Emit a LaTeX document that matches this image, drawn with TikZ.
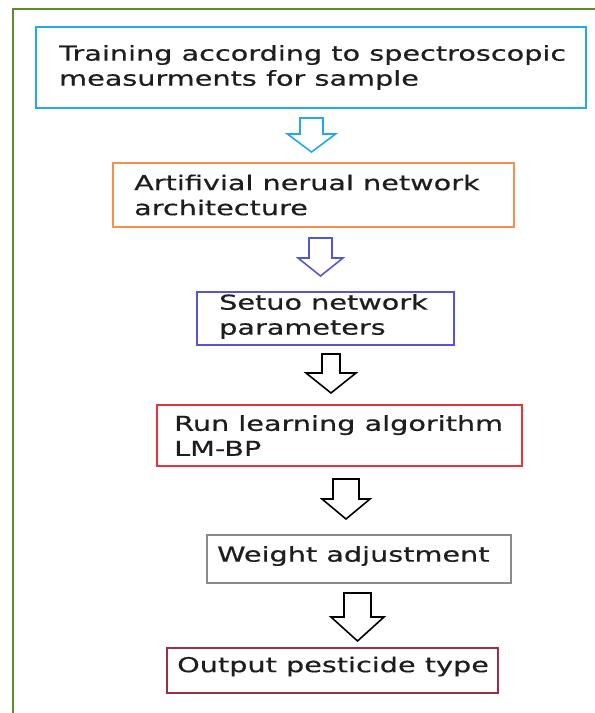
\documentclass[tikz,border=0pt]{standalone}
\usepackage{fontspec}
\setmainfont{DejaVu Sans}[FakeStretch=1.4]
\newfontfamily\stagefont{DejaVu Sans}[FakeStretch=1.4, FakeBold=0.6]
\usetikzlibrary{calc}

\definecolor{framegreen}{HTML}{5B8A32}
\definecolor{skyblue}{HTML}{22AAE6}
\definecolor{boxorange}{HTML}{F7904A}
\definecolor{violetblue}{HTML}{5656D2}
\definecolor{boxred}{HTML}{E8303E}
\definecolor{boxgray}{HTML}{8A8A8A}
\definecolor{wine}{HTML}{A02C44}
\definecolor{inkdark}{HTML}{1E1E1E}

\tikzset{
  stagebox/.style={draw=#1, line width=2pt, rectangle, inner sep=0pt},
  stagetext/.style={anchor=west, inner sep=0pt, align=left, text=inkdark,
    font=\stagefont\fontsize{20.5}{25}\selectfont},
  arrowline/.style={line width=1.6pt, fill=white, line join=miter},
}

% hollow block arrow: colour, centre x, top y, ledge y, tip y, shaft half width, head half width
\newcommand\blockarrow[7]{%
  \draw[arrowline, draw=#1] (#2-#6,#3) -- (#2+#6,#3) -- (#2+#6,#4) -- (#2+#7,#4)
    -- (#2,#5) -- (#2-#7,#4) -- (#2-#6,#4) -- cycle;}

\begin{document}
\begin{tikzpicture}[x=1pt, y=-1pt]
\useasboundingbox (0,0) rectangle (595,713);

% outer frame (left and top edges)
\draw[framegreen, line width=2pt] (13,713) -- (13,9) -- (595,9);

% process boxes
\node[stagebox=skyblue,   minimum width=550, minimum height=81] (b1) at (311,67.5) {};
\node[stagebox=boxorange, minimum width=401, minimum height=64] (b2) at (313.5,195) {};
\node[stagebox=violetblue,minimum width=257, minimum height=53] (b3) at (325.5,318.5) {};
\node[stagebox=boxred,    minimum width=365, minimum height=61] (b4) at (339.5,435.5) {};
\node[stagebox=boxgray,   minimum width=304, minimum height=48] (b5) at (359,559) {};
\node[stagebox=wine,      minimum width=331, minimum height=45] (b6) at (332.5,670.5) {};

% box labels
\node[stagetext] (t1) at ($(b1.west)+(24,0)$) {Training according to spectroscopic\\measurments for sample};
\node[stagetext] (t2) at ($(b2.west)+(22,0)$) {Artifivial nerual network\\architecture};
\node[stagetext] (t3) at ($(b3.west)+(23,-2)$) {Setuo network\\parameters};
\node[stagetext] (t4) at ($(b4.west)+(18,0)$) {Run learning algorithm\\LM-BP};
\node[stagetext] (t5) at ($(b5.west)+(11,-3)$) {Weight adjustment};
\node[stagetext] (t6) at ($(b6.west)+(11,-4)$) {Output pesticide type};

% flow arrows between the stages
\blockarrow{skyblue}{311.5}{118}{134}{152}{11.5}{24}
\blockarrow{violetblue}{320.5}{238}{258}{276}{11.5}{22.5}
\blockarrow{black}{331}{354}{373}{393}{9}{25}
\blockarrow{black}{346}{479}{499}{519}{13}{24}
\blockarrow{black}{357.5}{593}{617}{641}{13.5}{26.5}
\end{tikzpicture}
\end{document}
